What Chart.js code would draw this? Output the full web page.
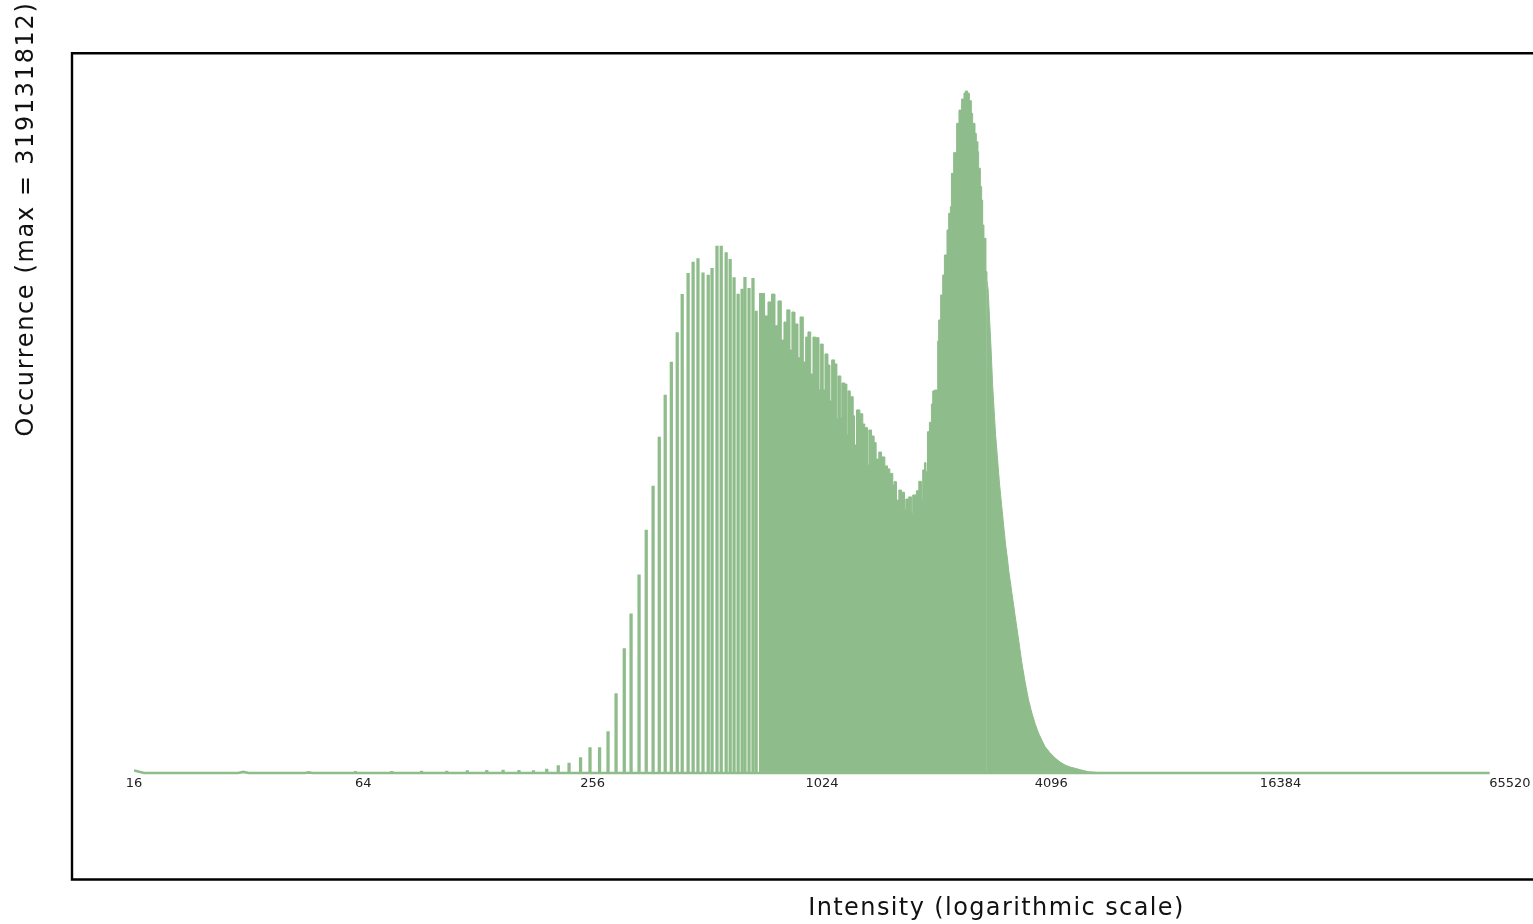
<!DOCTYPE html>
<html>
<head>
<meta charset="utf-8">
<script src="https://cdn.jsdelivr.net/npm/chart.js@4/dist/chart.umd.min.js"></script>
<style>
html,body{margin:0;padding:0;background:#fff;}
#wrap{position:relative;width:1533px;height:924px;}
</style>
</head>
<body>
<div id="wrap"><canvas id="c" width="1533" height="924"></canvas></div>
<script>
// ---------------- data ----------------
const maxCount = 319131812;
const xTitle = 'Intensity (logarithmic scale)';
const yTitle = 'Occurrence (max = 319131812)';
const tickValues = [16, 64, 256, 1024, 4096, 16384, 65520];
const tickLabels = ['16', '64', '256', '1024', '4096', '16384', '65520'];

// isolated spikes (intensity value, occurrence in millions)
const spikeIntensity = [61,76,91,106,120,135,149,164,179,194,208,222,238,252,267,281,295,310,323,339,354,369,383,397,412,427,440,456,470,484,499,515,527,543,557,574,588,602,617,632,643,659,675,688];
const spikeCount = [0.8,0.8,0.94,0.94,1.08,1.26,1.4,1.26,1.08,1.87,3.42,4.68,7.16,11.84,11.84,19.33,37.11,58.17,74.54,92.79,113.71,134.3,157.23,176.88,192.32,206.04,224.0,233.8,239.1,240.7,234.0,233.0,236.2,246.6,246.6,243.5,240.4,231.8,224.1,226.5,232.0,226.8,231.5,216.2];

// dense part of the histogram (bin start intensity, occurrence in millions)
const denseIntensity = [700,724,739,755,771,785,801,814,828,844,854,870,886,897,915,928,941,957,970,986,1006,1014,1032,1043,1062,1075,1086,1106,1121,1128,1148,1155,1176,1191,1198,1215,1237,1247,1262,1288,1311,1327,1349,1360,1382,1404,1421,1444,1468,1498,1522,1544,1572,1584,1607,1630,1656,1687,1700,1731,1762,1773,1813,1839,1869,1883,1903,1921,1938,1961,1985,2001,2021,2062,2074,2099,2125,2147,2181,2203,2226,2240,2271,2312,2345,2383,2417,2437,2471,2497,2527,2547,2583,2604,2630,2641,2668,2689,2706,2727,2760,2777];
const denseCount = [224.4,213.9,220.4,224.1,209.3,220.9,202.6,211.0,216.7,197.9,215.7,210.1,194.3,213.4,192.3,204.0,206.4,186.7,204.0,203.7,179.2,200.7,179.2,196.1,190.9,174.1,193.3,191.4,165.7,185.8,166.1,182.5,182.0,158.3,178.8,176.1,167.2,153.5,169.9,168.1,163.3,161.6,144.1,160.5,157.7,154.6,146.9,150.2,147.9,143.7,142.3,140.2,134.8,136.3,127.7,132.4,131.4,123.7,128.2,129.2,121.5,130.1,132.1,136.5,128.1,141.8,145.2,141.0,159.7,164.1,172.7,178.8,179.2,202.2,212.0,223.7,233.0,242.4,254.1,261.9,265.0,280.6,290.3,304.0,310.2,315.4,318.2,319.13,318.1,314.6,308.7,304.0,299.3,295.4,290.7,283.0,274.4,268.1,256.4,250.2,234.6,230.7];

// smooth upper tail (intensity, occurrence in millions)
const tailIntensity = [2777,2797,2822,2848,2874,2900,2926,2962,2998,3034,3071,3109,3146,3166,3229,3296,3363,3430,3501,3571,3643,3718,3793,3869,3949,4070,4194,4323,4455,4591,4731,4916,5127,5447,5673];
const tailCount = [230.7,226.0,212.0,197.9,181.6,169.9,158.2,146.5,134.8,125.4,116.1,106.7,99.7,95.0,84.2,73.0,62.2,51.5,42.1,34.2,28.1,22.9,18.7,15.4,12.2,9.4,7.0,5.1,3.7,2.8,2.2,1.4,0.6,0.2,0];

// near-zero trace across the whole range
const baseIntensity = [16, 17, 30, 31, 32, 45, 46, 47, 58000];
const baseCount = [1.2, 0, 0, 0.5, 0, 0, 0.3, 0, 0];

// ---------------- chart ----------------
const GREEN = 'rgb(143,188,139)';
const toPts = (xs, ys) => xs.map((x, i) => ({x: x, y: ys[i]}));

const decor = {
  id: 'decor',
  afterDraw(chart) {
    const ctx = chart.ctx;
    ctx.save();
    ctx.strokeStyle = '#000';
    ctx.lineWidth = 2.4;
    ctx.lineJoin = 'miter';
    ctx.beginPath();
    ctx.moveTo(1540, 53.3);
    ctx.lineTo(72, 53.3);
    ctx.lineTo(72, 879.5);
    ctx.lineTo(1540, 879.5);
    ctx.stroke();
    ctx.fillStyle = '#111';
    ctx.font = '24px "DejaVu Sans"';
    ctx.textAlign = 'center';
    ctx.textBaseline = 'middle';
    ctx.letterSpacing = '1.4px';
    ctx.fillText(xTitle, 996.5, 909);
    ctx.letterSpacing = '1.65px';
    ctx.translate(27, 219);
    ctx.rotate(-Math.PI / 2);
    ctx.fillText(yTitle, 0, 0);
    ctx.restore();
  }
};

Chart.defaults.font.family = '"DejaVu Sans", sans-serif';

new Chart(document.getElementById('c'), {
  type: 'bar',
  data: {
    datasets: [
      {
        type: 'bar',
        data: toPts(spikeIntensity, spikeCount),
        backgroundColor: GREEN,
        borderWidth: 0,
        barThickness: 2.6,
        order: 2
      },
      {
        type: 'line',
        data: toPts(denseIntensity, denseCount),
        stepped: 'before',
        borderColor: GREEN,
        backgroundColor: GREEN,
        borderWidth: 1,
        pointRadius: 0,
        fill: 'origin',
        order: 3
      },
      {
        type: 'line',
        data: toPts(tailIntensity, tailCount),
        borderColor: GREEN,
        backgroundColor: GREEN,
        borderWidth: 1,
        pointRadius: 0,
        tension: 0,
        fill: 'origin',
        order: 4
      },
      {
        type: 'line',
        data: toPts(baseIntensity, baseCount),
        borderColor: GREEN,
        borderWidth: 2.6,
        pointRadius: 0,
        fill: false,
        tension: 0,
        order: 1
      }
    ]
  },
  options: {
    responsive: false,
    maintainAspectRatio: false,
    animation: false,
    events: [],
    layout: { padding: { left: 134, right: 21, top: 53, bottom: 44 } },
    plugins: { legend: { display: false }, tooltip: { enabled: false } },
    scales: {
      x: {
        type: 'logarithmic',
        min: 16,
        max: 65520,
        offset: false,
        position: { y: 0 },
        grid: { display: false, drawTicks: false },
        border: { display: false },
        afterBuildTicks: (axis) => { axis.ticks = tickValues.map(v => ({ value: v })); },
        ticks: {
          autoSkip: false,
          maxRotation: 0,
          padding: 2.5,
          color: '#222',
          font: { size: 13 },
          callback: (value, index) => tickLabels[index]
        }
      },
      y: {
        type: 'linear',
        display: false,
        min: -50.07,
        max: 336.92
      }
    }
  },
  plugins: [decor]
});
</script>
</body>
</html>
